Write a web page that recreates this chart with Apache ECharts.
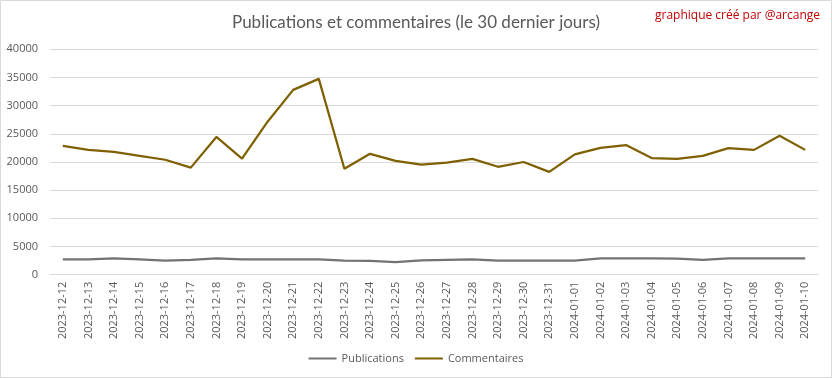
<!DOCTYPE html>
<html><head><meta charset="utf-8">
<script src="https://cdn.jsdelivr.net/npm/echarts@6/dist/echarts.min.js"></script>
<style>html,body{margin:0;padding:0;background:#fff}#c{width:832px;height:378px}</style>
</head><body><div id="c"></div>
<script>
const categories = ["2023-12-12","2023-12-13","2023-12-14","2023-12-15","2023-12-16","2023-12-17","2023-12-18","2023-12-19","2023-12-20","2023-12-21","2023-12-22","2023-12-23","2023-12-24","2023-12-25","2023-12-26","2023-12-27","2023-12-28","2023-12-29","2023-12-30","2023-12-31","2024-01-01","2024-01-02","2024-01-03","2024-01-04","2024-01-05","2024-01-06","2024-01-07","2024-01-08","2024-01-09","2024-01-10"];
const publications = [2700,2700,2900,2700,2480,2650,2900,2700,2700,2700,2700,2480,2450,2250,2540,2650,2700,2480,2480,2480,2480,2890,2890,2890,2850,2650,2890,2890,2890,2890];
const commentaires = [22850,22150,21800,21100,20400,19000,24450,20600,27150,32800,34750,18800,21450,20200,19550,19900,20550,19150,20000,18250,21350,22500,23000,20700,20550,21100,22450,22150,24650,22150];
const yTicks = {min:0, max:40000, interval:5000};

const chart = echarts.init(document.getElementById('c'));
chart.setOption({
  animation:false,
  backgroundColor:'#fff',
  title:{text:'Publications et commentaires (le 30 dernier jours)', left:'center', top:9,
    textStyle:{fontFamily:'Lato', fontSize:17, fontWeight:'normal', color:'#595959'}},
  graphic:[
    {type:'rect', shape:{x:0.5,y:0.5,width:831,height:377}, style:{fill:'none', stroke:'#d9d9d9', lineWidth:1}},
    {type:'text', right:12, top:10, style:{text:'graphique créé par @arcange', fill:'#c00000', font:'12px "Open Sans"'}}
  ],
  legend:{top:348, left:'center', itemWidth:28, itemHeight:2, itemGap:11, icon:'rect',
    textStyle:{fontFamily:'Open Sans', fontSize:11, color:'#595959'},
    data:['Publications','Commentaires']},
  grid:{left:50, right:14, top:49.3, bottom:103.3, containLabel:false},
  xAxis:{type:'category', data:categories, boundaryGap:true,
    axisLine:{lineStyle:{color:'#d9d9d9'}}, axisTick:{show:false},
    axisLabel:{rotate:90, interval:0, margin:7, fontFamily:'Open Sans', fontSize:11, color:'#595959'}},
  yAxis:{type:'value', min:yTicks.min, max:yTicks.max, interval:yTicks.interval,
    axisLine:{show:false}, axisTick:{show:false},
    splitLine:{lineStyle:{color:'#d9d9d9'}},
    axisLabel:{margin:12, fontFamily:'Open Sans', fontSize:11, color:'#595959', formatter:function(v){return String(v);}}},
  series:[
    {name:'Publications', type:'line', data:publications, symbol:'none', lineStyle:{color:'#767171', width:2.25}, itemStyle:{color:'#767171'}},
    {name:'Commentaires', type:'line', data:commentaires, symbol:'none', lineStyle:{color:'#7f6000', width:2.25}, itemStyle:{color:'#7f6000'}}
  ]
});
</script></body></html>
